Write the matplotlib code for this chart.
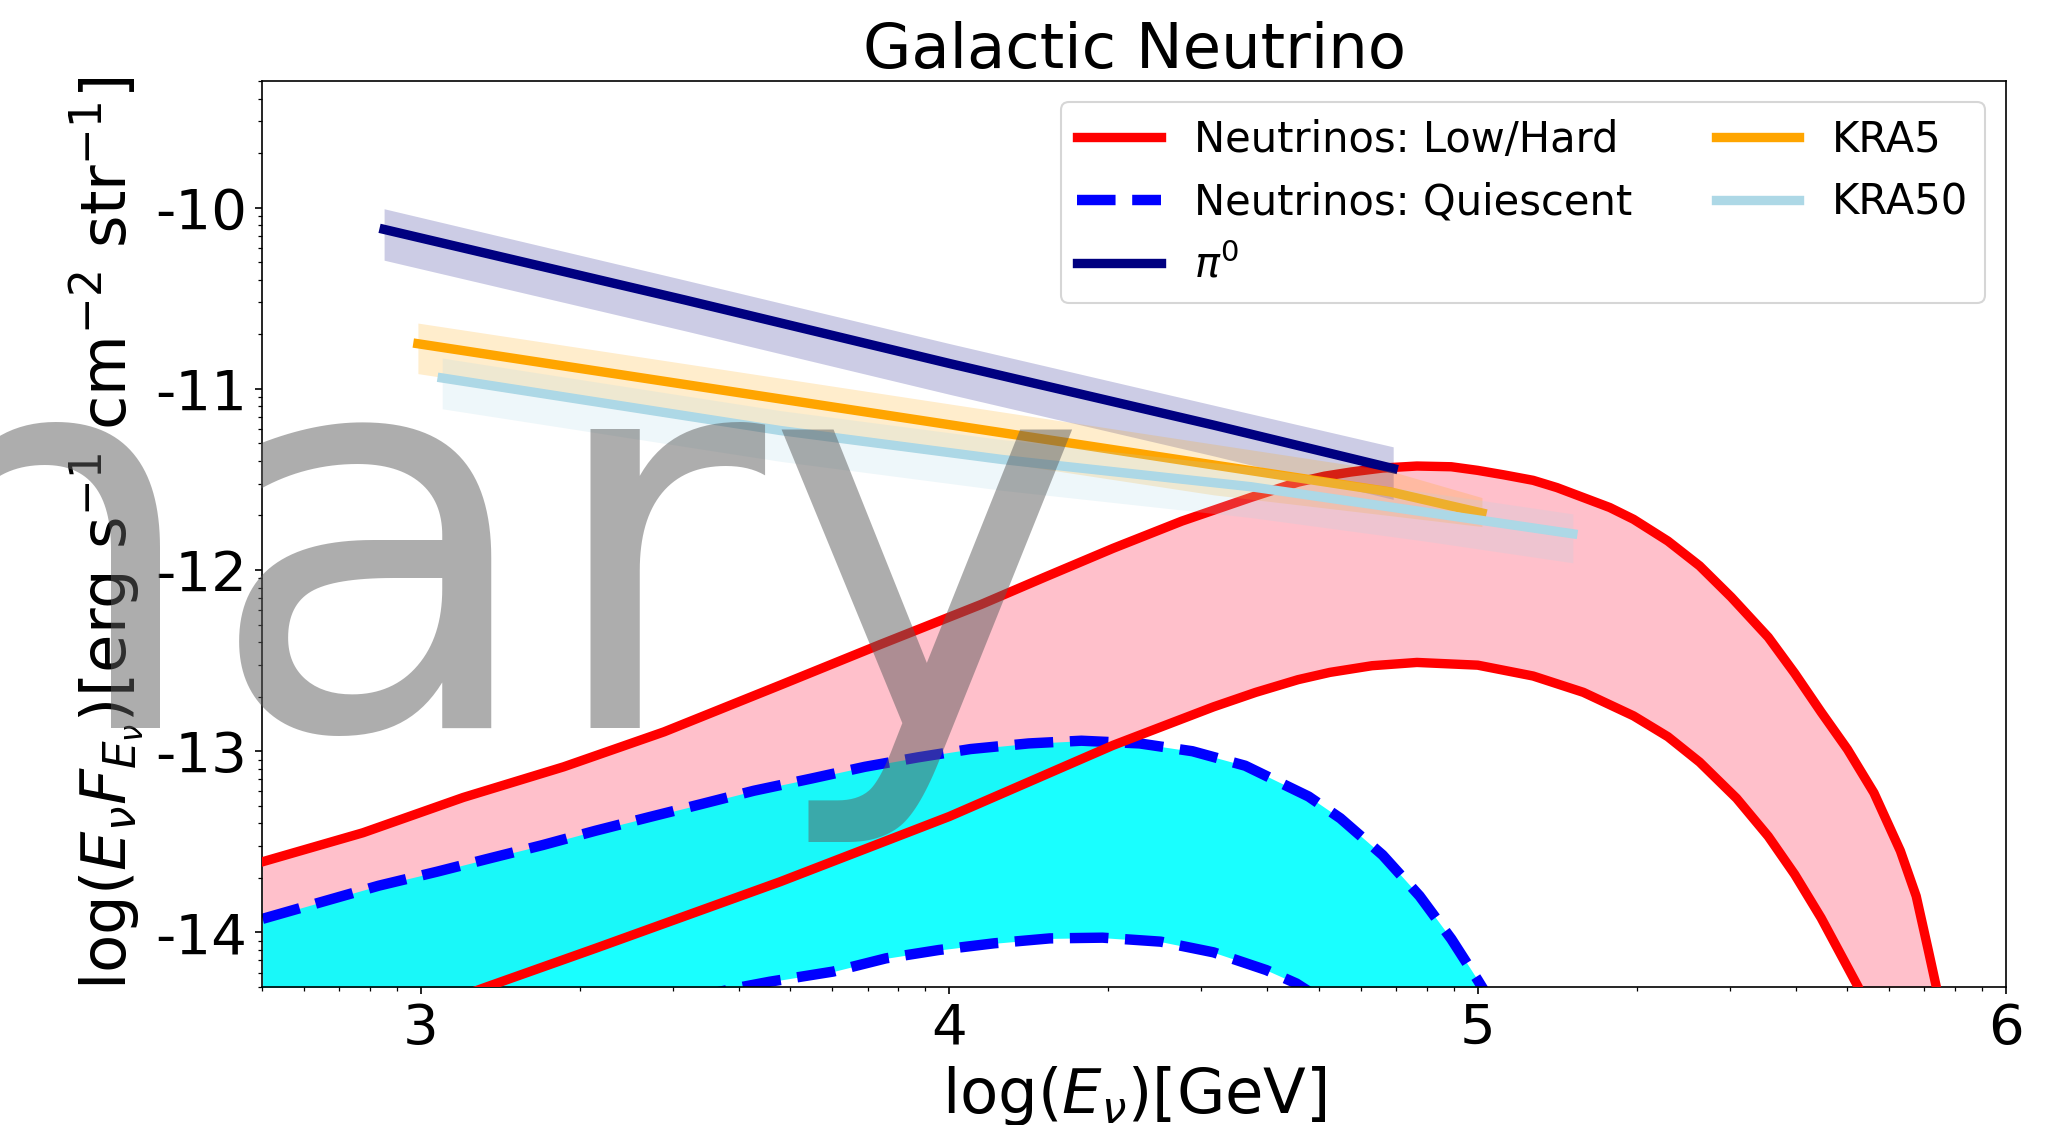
import numpy as np
import matplotlib
matplotlib.use("Agg")
import matplotlib.pyplot as plt
from matplotlib.ticker import FixedLocator, FuncFormatter, LogLocator, NullFormatter

# log10(E/GeV) and log10(E^2 dN/dE)

# neutrinos, low/hard scenario (band edges)
hard_hi_x = [2.70, 2.89, 3.08, 3.27, 3.46, 3.68, 3.87, 4.06, 4.18, 4.31, 4.44, 4.57, 4.66, 4.71, 4.76, 4.82,
             4.885, 4.95, 5.00, 5.05, 5.105, 5.15, 5.20, 5.25, 5.295, 5.36, 5.42, 5.48, 5.55, 5.60, 5.65,
             5.70, 5.75, 5.80, 5.83, 5.853, 5.868, 5.88]
hard_hi_y = [-13.61, -13.45, -13.255, -13.086, -12.893, -12.635, -12.41, -12.19, -12.04, -11.88, -11.73, -11.60,
             -11.515, -11.482, -11.459, -11.437, -11.426, -11.43, -11.45, -11.475, -11.505, -11.545, -11.60,
             -11.655, -11.72, -11.84, -11.977, -12.15, -12.371, -12.57, -12.784, -12.99, -13.23, -13.55,
             -13.80, -14.10, -14.30, -14.50]
hard_lo_x = [2.70, 3.12, 3.33, 3.68, 4.00, 4.31, 4.50, 4.58, 4.66, 4.72, 4.80, 4.885, 5.00, 5.105, 5.20,
             5.295, 5.36, 5.42, 5.49, 5.55, 5.60, 5.65, 5.72, 5.75]
hard_lo_y = [-14.75, -14.305, -14.088, -13.72, -13.36, -12.967, -12.755, -12.675, -12.605, -12.565, -12.528,
             -12.51, -12.525, -12.585, -12.675, -12.805, -12.92, -13.06, -13.26, -13.47, -13.68, -13.92,
             -14.30, -14.50]

# neutrinos, quiescent scenario (band edges)
quiet_hi_x = [2.70, 2.82, 2.92, 3.03, 3.13, 3.23, 3.33, 3.43, 3.53, 3.63, 3.74, 3.84, 3.94, 4.04, 4.15, 4.25,
              4.36, 4.46, 4.56, 4.68, 4.74, 4.82, 4.89, 4.95, 5.00, 5.05]
quiet_hi_y = [-13.925, -13.825, -13.742, -13.665, -13.591, -13.518, -13.439, -13.365, -13.292, -13.218, -13.150,
              -13.086, -13.034, -12.988, -12.957, -12.942, -12.957, -13.00, -13.08, -13.25, -13.37,
              -13.573, -13.799, -14.036, -14.263, -14.50]
quiet_lo_x = [2.70, 3.30, 3.60, 3.66, 3.78, 3.88, 3.98, 4.085, 4.19, 4.29, 4.40, 4.50, 4.60, 4.657, 4.72]
quiet_lo_y = [-15.00, -14.50, -14.305, -14.272, -14.216, -14.143, -14.097, -14.060, -14.033, -14.029, -14.051,
              -14.110, -14.208, -14.282, -14.40]

# pi0 gamma rays
pi0_x = [2.93, 3.50, 4.00, 4.50, 4.84]
pi0_y = [-10.12, -10.51, -10.86, -11.20, -11.44]
pi0_hi = [-10.006, -10.40, -10.75, -11.09, -11.32]
pi0_lo = [-10.29, -10.68, -11.03, -11.37, -11.61]

# KRA-gamma, 5 PeV cutoff
kra5_x = [2.994, 3.50, 4.00, 4.50, 4.835, 5.008]
kra5_y = [-10.751, -10.976, -11.198, -11.420, -11.569, -11.685]
kra5_hi = [-10.637, -10.861, -11.083, -11.305, -11.454, -11.600]
kra5_lo = [-10.916, -11.141, -11.363, -11.585, -11.700, -11.760]

# KRA-gamma, 50 PeV cutoff
kra50_x = [3.04, 3.68, 4.10, 4.57, 4.90, 5.18]
kra50_y = [-10.94, -11.23, -11.39, -11.54, -11.68, -11.80]
kra50_hi = [-10.83, -11.12, -11.28, -11.43, -11.57, -11.69]
kra50_lo = [-11.11, -11.40, -11.56, -11.71, -11.84, -11.96]


def p(v):
    return np.power(10.0, np.asarray(v, dtype=float))


fig = plt.figure(figsize=(2060 / 150, 1125 / 150), dpi=150)
ax = fig.add_axes([0.1272, 0.1227, 0.8466, 0.8053])
ax.set_xscale("log")
ax.set_yscale("log")

# bands
xh = np.union1d(hard_hi_x, hard_lo_x)
ax.fill_between(p(xh), p(np.interp(xh, hard_lo_x, hard_lo_y)), p(np.interp(xh, hard_hi_x, hard_hi_y)),
                color="pink", lw=0, zorder=1)
xq = np.union1d(quiet_hi_x, quiet_lo_x)
ax.fill_between(p(xq), p(np.interp(xq, quiet_lo_x, quiet_lo_y)), p(np.interp(xq, quiet_hi_x, quiet_hi_y)),
                color="cyan", alpha=0.9, lw=0, zorder=1)

ax.plot(p(hard_hi_x), p(hard_hi_y), color="red", lw=4.5, zorder=3, label="Neutrinos: Low/Hard")
ax.plot(p(hard_lo_x), p(hard_lo_y), color="red", lw=4.5, zorder=3)
ax.plot(p(quiet_hi_x), p(quiet_hi_y), color="blue", ls="--", lw=5, zorder=2, label="Neutrinos: Quiescent")
ax.plot(p(quiet_lo_x), p(quiet_lo_y), color="blue", ls="--", lw=5, zorder=2)

ax.plot(p(pi0_x), p(pi0_y), color="navy", lw=4.5, zorder=4, label=r"$\pi^0$")
ax.fill_between(p(pi0_x), p(pi0_lo), p(pi0_hi), color="navy", alpha=0.2, lw=0, zorder=4)
ax.plot(p(kra5_x), p(kra5_y), color="orange", lw=4.5, zorder=4, label="KRA5")
ax.fill_between(p(kra5_x), p(kra5_lo), p(kra5_hi), color="orange", alpha=0.2, lw=0, zorder=4)
ax.plot(p(kra50_x), p(kra50_y), color="lightblue", lw=4.5, zorder=4, label="KRA50")
ax.fill_between(p(kra50_x), p(kra50_lo), p(kra50_hi), color="lightblue", alpha=0.2, lw=0, zorder=4)

ax.set_xlim(5e2, 1e6)
ax.set_ylim(5e-15, 5e-10)

logfmt = FuncFormatter(lambda v, pos: "%d" % int(round(np.log10(v))))
ax.xaxis.set_major_locator(FixedLocator([1e3, 1e4, 1e5, 1e6]))
ax.yaxis.set_major_locator(FixedLocator([1e-14, 1e-13, 1e-12, 1e-11, 1e-10]))
ax.xaxis.set_major_formatter(logfmt)
ax.yaxis.set_major_formatter(logfmt)
for a in (ax.xaxis, ax.yaxis):
    a.set_minor_locator(LogLocator(base=10, subs=np.arange(2, 10), numticks=30))
    a.set_minor_formatter(NullFormatter())
ax.tick_params(labelsize=27)

ax.set_title("Galactic Neutrino", fontsize=30)
ax.set_xlabel(r"log$(E_{\nu})$[GeV]", fontsize=30)
ax.set_ylabel(r"log$(E_{\nu}F_{E_{\nu}})$[erg s$^{-1}$ cm$^{-2}$ str$^{-1}$]", fontsize=30)

ax.legend(loc="upper right", ncol=2, fontsize=20)

# watermark over the whole figure
fig.text(0.5284, 0.3529, "Preliminary", ha="right", va="baseline", fontsize=262,
         color="#5c5c5c", alpha=0.5, zorder=10)

fig.savefig("out.png", dpi=150)
